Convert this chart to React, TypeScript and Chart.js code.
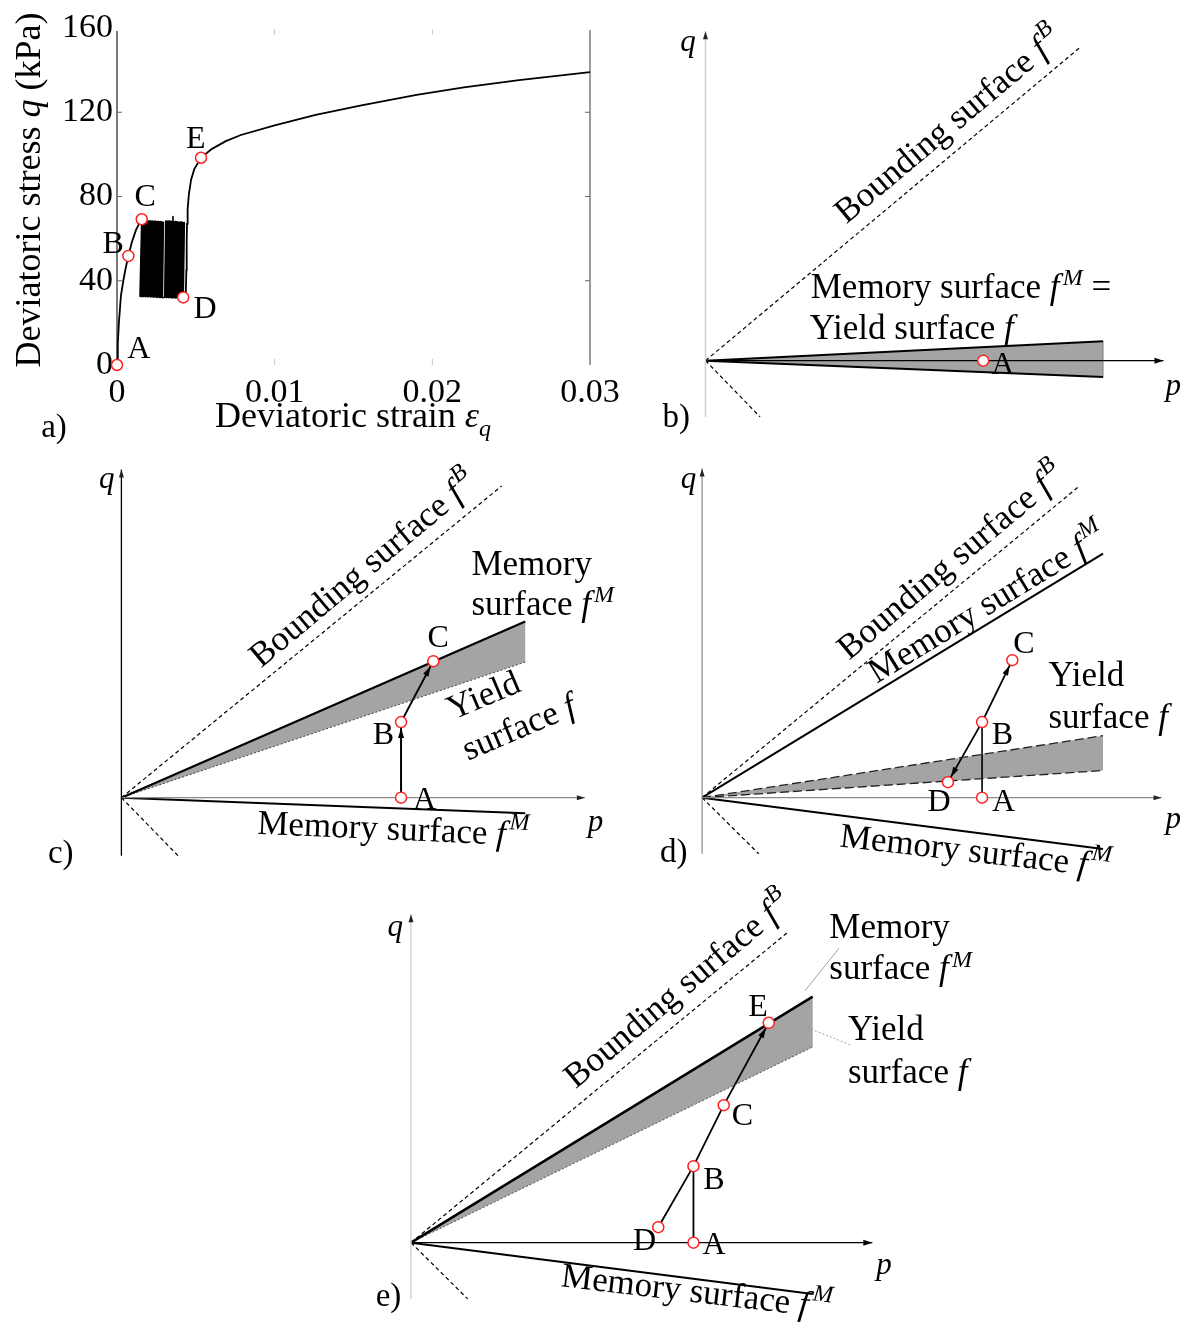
import React, { useEffect, useRef } from 'react';
import { Chart, registerables } from 'chart.js';

Chart.register(...registerables);

type Pt = [number, number];
type Part = { t: string; s?: 'i' | 'sup' | 'sub' };
type Label = {
  x: number; y: number; parts: Part[]; angle?: number;
  align?: 'left' | 'center'; base?: CanvasTextBaseline; size?: number; px?: boolean;
};

const FONT = '"Liberation Serif", "Times New Roman", Times, serif';
const GRAY = '#a4a4a4';
const DASH = [4, 3];
const TEXT_SIZE = 35;
const LETTER_SIZE = 32;

// ================= Panel a : data =================
const aXTicks = [0, 0.01, 0.02, 0.03];
const aXTickLabels = ['0', '0.01', '0.02', '0.03'];
const aYTicks = [0, 40, 80, 120, 160];
const aYTickLabels = ['0', '40', '80', '120', '160'];

// strain in units of 1e-3, stress in kPa
const loadStrainMilli = [0, 0.05, 0.12, 0.25, 0.4, 0.55, 0.72, 0.95, 1.2, 1.4, 1.57];
const loadStress = [0, 10, 20, 33, 40, 46, 51.8, 58.5, 64, 67, 69.2];

const cyclicStrainMilli = [
  1.57, 1.46, 1.64, 1.53, 1.72, 1.62, 1.81, 1.7, 1.89, 1.79, 1.98, 1.88, 2.07, 1.97, 2.15, 2.06, 2.24,
  2.15, 2.33, 2.24, 2.42, 2.33, 2.51, 2.43, 2.6, 2.52, 2.69, 2.62, 2.78, 2.72, 2.86, 2.8, 2.94, 2.88,
  3.03, 3.09, 3.11, 3.17, 3.19, 3.25, 3.27, 3.33, 3.35, 3.41, 3.43, 3.48, 3.5, 3.55, 3.57, 3.61, 3.64,
  3.69, 3.72, 3.77, 3.8, 3.85, 3.88, 3.93, 3.96, 4.01, 4.04, 4.09, 4.12, 4.17, 4.2, 4.27, 4.2,
];
const cyclicStress = [
  69.2, 32.6, 68.6, 32.5, 68.7, 32.4, 68.5, 32.6, 68.6, 32.4, 68.4, 32.5, 68.5, 32.3, 68.3, 32.5, 68.4,
  32.3, 68.2, 32.4, 68.3, 32.2, 68.1, 32.3, 68.2, 32.1, 68.0, 32.2, 68.1, 32.0, 67.9, 32.1, 67.8, 32.0,
  32.2, 68.3, 32.1, 68.4, 32.2, 68.2, 32.0, 68.3, 32.1, 68.1, 31.9, 68.2, 32.0, 70.5, 31.9, 68.0, 32.0,
  68.1, 31.8, 67.9, 31.9, 68.0, 31.8, 67.8, 31.7, 67.9, 31.8, 67.7, 31.7, 67.8, 31.8, 67.6, 32.1,
];

const reloadStrainMilli = [4.2, 4.36, 4.4, 4.42, 4.44, 4.48, 4.56, 4.7, 4.9, 5.33, 6.0, 6.9, 7.86, 10.0, 12.6, 15.5, 19.0, 22.0, 25.5, 30];
const reloadStress = [32.1, 33, 45, 58, 67, 74, 81, 88, 93, 98.4, 102.5, 106.3, 109.2, 113.8, 118.7, 123.3, 128.2, 131.8, 135.3, 139.1];

const stateNames = ['A', 'B', 'C', 'D', 'E'];
const stateStrainMilli = [0, 0.72, 1.57, 4.2, 5.33];
const stateStress = [0, 51.8, 69.2, 32.1, 98.4];

// ================= Panels b-e : schematic geometry (p, q) =================
const bQAxis: Pt[] = [[0, -58], [0, 340]];
const bPAxis: Pt[] = [[0, 0], [470, 0]];
const bBounding: Pt[] = [[0, 0], [384, 323]];
const bBoundingLow: Pt[] = [[0, 0], [56, -58]];
const bSurfUpper: Pt[] = [[0, 0], [408, 20]];
const bSurfLower: Pt[] = [[0, 0], [408, -17]];
const bStates: Pt[] = [[285, 0]];

const cQAxis: Pt[] = [[0, -60], [0, 339]];
const cPAxis: Pt[] = [[0, 0], [474, 0]];
const cBounding: Pt[] = [[0, 0], [389, 322]];
const cBoundingLow: Pt[] = [[0, 0], [58, -60]];
const cMemoryUpper: Pt[] = [[0, 0], [413, 182]];
const cYield: Pt[] = [[0, 0], [413, 140]];
const cMemoryLower: Pt[] = [[0, 0], [413, -16]];
const cPathAB: Pt[] = [[286, 0], [286, 78]];
const cPathBC: Pt[] = [[286, 78], [319, 141]];
const cStates: Pt[] = [[286, 0], [286, 78], [319, 141]];

const dQAxis: Pt[] = [[0, -58], [0, 340]];
const dPAxis: Pt[] = [[0, 0], [471, 0]];
const dBounding: Pt[] = [[0, 0], [387, 322]];
const dBoundingLow: Pt[] = [[0, 0], [58, -58]];
const dMemoryUpper: Pt[] = [[0, 0], [411, 252]];
const dYieldUpper: Pt[] = [[0, 0], [411, 64]];
const dYieldLower: Pt[] = [[0, 0], [411, 28]];
const dMemoryLower: Pt[] = [[0, 0], [411, -53]];
const dPathAB: Pt[] = [[287, 0], [287, 78]];
const dPathBC: Pt[] = [[287, 78], [318, 142]];
const dPathBD: Pt[] = [[287, 78], [252, 16]];
const dStates: Pt[] = [[287, 0], [287, 78], [318, 142], [252, 16]];

const eQAxis: Pt[] = [[0, -58], [0, 339]];
const ePAxis: Pt[] = [[0, 0], [472, 0]];
const eBounding: Pt[] = [[0, 0], [385, 320]];
const eBoundingLow: Pt[] = [[0, 0], [58, -58]];
const eMemoryUpper: Pt[] = [[0, 0], [411, 254]];
const eYield: Pt[] = [[0, 0], [411, 202]];
const eMemoryLower: Pt[] = [[0, 0], [411, -53]];
const ePathAB: Pt[] = [[289, 0], [289, 79]];
const ePathDB: Pt[] = [[253, 16], [289, 79]];
const ePathBCE: Pt[] = [[289, 79], [320, 142], [366, 227]];
const eMemoryLeader: Pt[] = [[403, 260], [438, 304]];
const eYieldLeader: Pt[] = [[398, 225], [450, 204]];
const eStates: Pt[] = [[289, 0], [289, 79], [320, 142], [253, 16], [366, 227]];

// ================= helpers =================
const T = (t: string): Part => ({ t });
const I = (t: string): Part => ({ t, s: 'i' });
const SUP = (t: string): Part => ({ t, s: 'sup' });
const SUB = (t: string): Part => ({ t, s: 'sub' });
const txtBounding = [T('Bounding surface '), I('f'), SUP('B')];
const txtMemory = [T('Memory surface '), I('f'), SUP('M')];

const toXY = (pts: Pt[]) => pts.map(([x, y]) => ({ x, y }));
const zipXY = (xs: number[], ys: number[], k = 1) => xs.map((x, i) => ({ x: x * k, y: ys[i] }));
const wedge = (up: Pt[], low: Pt[]): Pt[] => [up[0], up[1], low[1], low[0]];

function partFont(p: Part, size: number) {
  const small = p.s === 'sup' || p.s === 'sub';
  return `${p.s ? 'italic ' : ''}${small ? Math.round(size * 0.68) : size}px ${FONT}`;
}

function makeLabelPlugin(items: Label[]) {
  return {
    id: 'textLabels',
    afterDatasetsDraw(chart: any) {
      const ctx = chart.ctx;
      const xs = chart.scales.x;
      const ys = chart.scales.y;
      for (const L of items) {
        const X = L.px ? L.x : xs.getPixelForValue(L.x);
        const Y = L.px ? L.y : ys.getPixelForValue(L.y);
        const size = L.size ?? TEXT_SIZE;
        ctx.save();
        ctx.translate(X, Y);
        ctx.rotate(((L.angle ?? 0) * Math.PI) / 180);
        ctx.fillStyle = '#000';
        ctx.textBaseline = L.base ?? 'middle';
        ctx.textAlign = 'left';
        const dxs = L.parts.map((p) => (p.s === 'sup' ? size * 0.09 : 0));
        const widths = L.parts.map((p) => {
          ctx.font = partFont(p, size);
          return ctx.measureText(p.t).width;
        });
        const total = widths.reduce((a, b) => a + b, 0) + dxs.reduce((a, b) => a + b, 0);
        let cx = L.align === 'left' ? 0 : -total / 2;
        L.parts.forEach((p, i) => {
          ctx.font = partFont(p, size);
          const dy = p.s === 'sup' ? -size * 0.36 : p.s === 'sub' ? size * 0.24 : 0;
          ctx.fillText(p.t, cx + dxs[i], dy);
          cx += widths[i] + dxs[i];
        });
        ctx.restore();
      }
    },
  };
}

const arrowPlugin = {
  id: 'arrowHeads',
  afterDatasetDraw(chart: any, args: any) {
    const ds: any = chart.data.datasets[args.index];
    const a = ds.arrowHead;
    if (!a) return;
    const pts = args.meta.data;
    if (!pts || pts.length < 2) return;
    const p1 = pts[pts.length - 2];
    const p2 = pts[pts.length - 1];
    const dx = p2.x - p1.x;
    const dy = p2.y - p1.y;
    const len = Math.hypot(dx, dy) || 1;
    const ux = dx / len;
    const uy = dy / len;
    const inset = a.inset ?? 0;
    const tx = p2.x - ux * inset;
    const ty = p2.y - uy * inset;
    const bx = tx - ux * a.len;
    const by = ty - uy * a.len;
    const ctx = chart.ctx;
    ctx.save();
    ctx.fillStyle = a.color ?? '#000';
    ctx.beginPath();
    ctx.moveTo(tx, ty);
    ctx.lineTo(bx - (uy * a.w) / 2, by + (ux * a.w) / 2);
    ctx.lineTo(bx + (uy * a.w) / 2, by - (ux * a.w) / 2);
    ctx.closePath();
    ctx.fill();
    ctx.restore();
  },
};

interface LineStyle {
  color?: string; width?: number; dash?: number[];
  arrow?: { len: number; w: number; inset?: number; color?: string }; order?: number;
}
function lineDs(pts: Pt[], st: LineStyle = {}) {
  return {
    data: toXY(pts),
    borderColor: st.color ?? '#000',
    borderWidth: st.width ?? 1.5,
    borderDash: st.dash ?? [],
    borderCapStyle: 'butt',
    pointRadius: 0,
    pointHoverRadius: 0,
    fill: false,
    clip: false,
    order: st.order ?? 5,
    arrowHead: st.arrow,
  };
}
function fillDs(pts: Pt[], color: string) {
  return {
    data: toXY(pts),
    borderColor: 'rgba(0,0,0,0)',
    borderWidth: 1,
    backgroundColor: color,
    fill: 'shape',
    pointRadius: 0,
    clip: false,
    order: 20,
  };
}
function markerDs(data: { x: number; y: number }[]) {
  return {
    data,
    showLine: false,
    pointStyle: 'circle',
    pointRadius: 5.5,
    pointHoverRadius: 5.5,
    pointBorderWidth: 1.5,
    pointBorderColor: '#ff2020',
    pointBackgroundColor: '#ffffff',
    borderColor: '#ff2020',
    backgroundColor: '#ffffff',
    clip: false,
    order: 0,
  };
}

const ARROW_AX = { len: 8, w: 5, color: '#222' };
const ARROW_PATH = { len: 10, w: 6, inset: 6 };

// ================= Panel a config =================
const aStateLabelPos = [
  { x: 0.00139, y: 7.5 },
  { x: -0.00025, y: 57.4 },
  { x: 0.00178, y: 79.3 },
  { x: 0.00558, y: 26.1 },
  { x: 0.00499, y: 106.8 },
];

const frameAPlugin = {
  id: 'frameA',
  beforeDatasetsDraw(chart: any) {
    const { ctx, chartArea: ca, scales } = chart;
    ctx.save();
    ctx.lineWidth = 1.3;
    ctx.strokeStyle = '#333';
    ctx.beginPath();
    ctx.moveTo(ca.left, ca.top + 3);
    ctx.lineTo(ca.left, ca.bottom);
    ctx.stroke();
    ctx.strokeStyle = '#666';
    ctx.beginPath();
    ctx.moveTo(ca.right, ca.top + 2);
    ctx.lineTo(ca.right, ca.bottom);
    ctx.stroke();
    ctx.lineWidth = 1;
    for (const v of aYTicks.slice(1, -1)) {
      const y = scales.y.getPixelForValue(v);
      ctx.beginPath();
      ctx.moveTo(ca.left, y);
      ctx.lineTo(ca.left + 5, y);
      ctx.moveTo(ca.right, y);
      ctx.lineTo(ca.right - 5, y);
      ctx.stroke();
    }
    ctx.strokeStyle = '#c4c4c4';
    for (const v of aXTicks.slice(1, -1)) {
      const x = scales.x.getPixelForValue(v);
      ctx.beginPath();
      ctx.moveTo(x, ca.top + 1);
      ctx.lineTo(x, ca.top + 7);
      ctx.moveTo(x, ca.bottom);
      ctx.lineTo(x, ca.bottom - 6);
      ctx.stroke();
    }
    ctx.restore();
  },
};

function panelAConfig() {
  const labels: Label[] = [
    ...stateNames.map((n, i) => ({ ...aStateLabelPos[i], parts: [T(n)], size: LETTER_SIZE })),
    { px: true, x: 31, y: 190, angle: -90, size: 36, parts: [T('Deviatoric stress '), I('q'), T(' (kPa)')] },
    { px: true, x: 353, y: 427, base: 'alphabetic', size: 36, parts: [T('Deviatoric strain '), I('ε'), SUB('q')] },
    { px: true, x: 54, y: 428, size: 33, parts: [T('a)')] },
  ];
  const tickFont = { family: FONT, size: 34 };
  return {
    type: 'line',
    data: {
      datasets: [
        { data: zipXY(loadStrainMilli, loadStress, 1e-3), borderColor: '#000', borderWidth: 1.8, pointRadius: 0, clip: false, order: 5, fill: false },
        { data: zipXY(cyclicStrainMilli, cyclicStress, 1e-3), borderColor: '#000', borderWidth: 1.6, borderJoinStyle: 'round', pointRadius: 0, clip: false, order: 5, fill: false },
        { data: zipXY(reloadStrainMilli, reloadStress, 1e-3), borderColor: '#000', borderWidth: 1.8, pointRadius: 0, clip: false, order: 5, fill: false },
        markerDs(zipXY(stateStrainMilli, stateStress, 1e-3)),
      ],
    },
    options: {
      responsive: false,
      animation: false,
      events: [],
      layout: { padding: { left: 0, top: 28, right: 50, bottom: 0 } },
      plugins: { legend: { display: false }, tooltip: { enabled: false } },
      scales: {
        x: {
          type: 'linear', min: 0, max: 0.03,
          afterBuildTicks: (sc: any) => { sc.ticks = aXTicks.map((v) => ({ value: v })); },
          afterFit: (sc: any) => { sc.height = 85; },
          grid: { display: false, drawTicks: false },
          border: { display: false },
          ticks: { autoSkip: false, maxRotation: 0, minRotation: 0, padding: 8, color: '#000', font: tickFont, callback: (_v: any, i: number) => aXTickLabels[i] },
        },
        y: {
          type: 'linear', min: 0, max: 160,
          afterBuildTicks: (sc: any) => { sc.ticks = aYTicks.map((v) => ({ value: v })); },
          afterFit: (sc: any) => { sc.width = 117; },
          grid: { display: false, drawTicks: false },
          border: { display: false },
          ticks: { autoSkip: false, padding: 4, color: '#000', font: tickFont, callback: (_v: any, i: number) => aYTickLabels[i] },
        },
      },
    },
    plugins: [frameAPlugin, arrowPlugin, makeLabelPlugin(labels)],
  };
}

// ================= Panels b-e config =================
interface Spec { left: number; top: number; width: number; height: number; ox: number; oy: number; datasets: any[]; labels: Label[] }

function schematicConfig(s: Spec) {
  return {
    type: 'line',
    data: { datasets: s.datasets },
    options: {
      responsive: false,
      animation: false,
      events: [],
      layout: { padding: 0 },
      plugins: { legend: { display: false }, tooltip: { enabled: false } },
      scales: {
        x: { type: 'linear', display: false, min: -s.ox, max: s.width - s.ox },
        y: { type: 'linear', display: false, min: -(s.height - s.oy), max: s.oy },
      },
    },
    plugins: [arrowPlugin, makeLabelPlugin(s.labels)],
  };
}

const letter = (x: number, y: number, t: string): Label => ({ x, y, parts: [T(t)], size: LETTER_SIZE });

const panelB: Spec = {
  left: 640, top: 0, width: 550, height: 450, ox: 60, oy: 365,
  datasets: [
    fillDs(wedge(bSurfUpper, bSurfLower), GRAY),
    lineDs(bQAxis, { color: '#cfcfcf', width: 1.5, arrow: ARROW_AX }),
    lineDs(bPAxis, { width: 1.2, arrow: { len: 9, w: 6 } }),
    lineDs(bBounding, { width: 1.2, dash: DASH }),
    lineDs(bBoundingLow, { width: 1.2, dash: DASH }),
    lineDs(bSurfUpper, { width: 2 }),
    lineDs(bSurfLower, { width: 2 }),
    lineDs([bSurfLower[1], bSurfUpper[1]], { width: 0.8, color: '#777' }),
    markerDs(toXY(bStates)),
  ],
  labels: [
    { x: -18, y: 328, parts: [I('q')], size: 31 },
    { x: 480, y: -27, parts: [I('p')], size: 31 },
    { x: -30, y: -60, parts: [T('b)')], size: 33 },
    letter(305, -5, 'A'),
    { x: 250, y: 242, angle: -40, parts: txtBounding },
    { x: 108, y: 65, align: 'left', base: 'alphabetic', parts: [...txtMemory, T(' =')] },
    { x: 107, y: 22, align: 'left', base: 'alphabetic', parts: [T('Yield surface '), I('f')] },
  ],
};

const panelC: Spec = {
  left: 0, top: 445, width: 630, height: 440, ox: 117, oy: 357,
  datasets: [
    fillDs(wedge(cMemoryUpper, cYield), GRAY),
    lineDs(cQAxis, { width: 1.3, arrow: ARROW_AX }),
    lineDs(cPAxis, { width: 1.2, color: '#8a8a8a', arrow: ARROW_AX }),
    lineDs(cBounding, { width: 1.2, dash: DASH }),
    lineDs(cBoundingLow, { width: 1.2, dash: DASH }),
    lineDs(cMemoryUpper, { width: 2.2 }),
    lineDs(cYield, { width: 1, dash: [2, 2], color: '#444' }),
    lineDs(cMemoryLower, { width: 2 }),
    lineDs(cPathAB, { width: 2, arrow: ARROW_PATH }),
    lineDs(cPathBC, { width: 2, arrow: ARROW_PATH }),
    markerDs(toXY(cStates)),
  ],
  labels: [
    { x: -15, y: 328, parts: [I('q')], size: 31 },
    { x: 485, y: -26, parts: [I('p')], size: 31 },
    { x: -62, y: -59, parts: [T('c)')], size: 33 },
    letter(310, -3, 'A'),
    letter(268, 64, 'B'),
    letter(324, 164, 'C'),
    { x: 248, y: 235, angle: -40, parts: txtBounding },
    { x: 358, y: 230, align: 'left', base: 'alphabetic', parts: [T('Memory')] },
    { x: 358, y: 189, align: 'left', base: 'alphabetic', parts: [T('surface '), I('f'), SUP('M')] },
    { x: 371, y: 104, angle: -23, parts: [T('Yield')] },
    { x: 407, y: 71, angle: -23, parts: [T('surface '), I('f')] },
    { x: 278, y: -34, angle: 2.5, parts: txtMemory },
  ],
};

const panelD: Spec = {
  left: 620, top: 445, width: 570, height: 440, ox: 77, oy: 357,
  datasets: [
    fillDs(wedge(dYieldUpper, dYieldLower), GRAY),
    lineDs(dQAxis, { width: 1.2, color: '#8a8a8a', arrow: ARROW_AX }),
    lineDs(dPAxis, { width: 1.2, color: '#8a8a8a', arrow: ARROW_AX }),
    lineDs(dBounding, { width: 1.2, dash: DASH }),
    lineDs(dBoundingLow, { width: 1.2, dash: DASH }),
    lineDs(dMemoryUpper, { width: 2 }),
    lineDs(dYieldUpper, { width: 1.3, dash: [9, 4], color: '#222' }),
    lineDs(dYieldLower, { width: 1.3, dash: [9, 4], color: '#222' }),
    lineDs(dMemoryLower, { width: 2 }),
    lineDs(dPathAB, { width: 1.6 }),
    lineDs(dPathBC, { width: 1.8, arrow: ARROW_PATH }),
    lineDs(dPathBD, { width: 1.8, arrow: ARROW_PATH }),
    markerDs(toXY(dStates)),
  ],
  labels: [
    { x: -14, y: 328, parts: [I('q')], size: 31 },
    { x: 483, y: -23, parts: [I('p')], size: 31 },
    { x: -29, y: -58, parts: [T('d)')], size: 33 },
    letter(309, -5, 'A'),
    letter(308, 64, 'B'),
    letter(330, 158, 'C'),
    letter(243, -5, 'D'),
    { x: 256, y: 243, angle: -40, parts: txtBounding },
    { x: 293, y: 199, angle: -31.5, parts: txtMemory },
    { x: 355, y: 115, align: 'left', base: 'alphabetic', parts: [T('Yield')] },
    { x: 355, y: 72, align: 'left', base: 'alphabetic', parts: [T('surface '), I('f')] },
    { x: 280, y: -57, angle: 6.5, parts: txtMemory },
  ],
};

const panelE: Spec = {
  left: 360, top: 885, width: 620, height: 448, ox: 45, oy: 362,
  datasets: [
    fillDs(wedge(eMemoryUpper, eYield), GRAY),
    lineDs(eQAxis, { width: 1.5, color: '#d2d2d2', arrow: ARROW_AX }),
    lineDs(ePAxis, { width: 1.3, arrow: { len: 9, w: 6 } }),
    lineDs(eBounding, { width: 1.2, dash: DASH }),
    lineDs(eBoundingLow, { width: 1.2, dash: DASH }),
    lineDs(eMemoryUpper, { width: 2.5 }),
    lineDs(eYield, { width: 1, dash: [2, 2], color: '#555' }),
    lineDs(eMemoryLower, { width: 2 }),
    lineDs(ePathAB, { width: 1.8 }),
    lineDs(ePathDB, { width: 1.8 }),
    lineDs(ePathBCE, { width: 1.8, arrow: ARROW_PATH }),
    lineDs(eMemoryLeader, { width: 0.9, color: '#9a9a9a' }),
    lineDs(eYieldLeader, { width: 0.9, color: '#9a9a9a', dash: [2, 2] }),
    markerDs(toXY(eStates)),
  ],
  labels: [
    { x: -16, y: 325, parts: [I('q')], size: 31 },
    { x: 484, y: -24, parts: [I('p')], size: 31 },
    { x: -23, y: -56, parts: [T('e)')], size: 33 },
    letter(310, -3, 'A'),
    letter(310, 64, 'B'),
    letter(339, 130, 'C'),
    letter(239, 1, 'D'),
    letter(355, 243, 'E'),
    { x: 274, y: 260, angle: -40, parts: txtBounding },
    { x: 428, y: 315, align: 'left', base: 'alphabetic', parts: [T('Memory')] },
    { x: 428, y: 272, align: 'left', base: 'alphabetic', parts: [T('surface '), I('f'), SUP('M')] },
    { x: 447, y: 209, align: 'left', base: 'alphabetic', parts: [T('Yield')] },
    { x: 447, y: 165, align: 'left', base: 'alphabetic', parts: [T('surface '), I('f')] },
    { x: 292, y: -52, angle: 6.7, parts: txtMemory },
  ],
};

// ================= React =================
function ChartCanvas(props: { left: number; top: number; width: number; height: number; build: () => any }) {
  const ref = useRef<HTMLCanvasElement>(null);
  useEffect(() => {
    if (!ref.current) return;
    const chart = new Chart(ref.current, props.build());
    return () => chart.destroy();
  }, []);
  const { left, top, width, height } = props;
  return (
    <canvas
      ref={ref}
      width={width}
      height={height}
      style={{ position: 'absolute', left, top, width, height }}
    />
  );
}

export default function App() {
  const panels = [panelB, panelC, panelD, panelE];
  return (
    <div style={{ position: 'absolute', left: 0, top: 0, width: 1190, height: 1333, background: '#fff', overflow: 'hidden' }}>
      <ChartCanvas left={0} top={0} width={640} height={450} build={panelAConfig} />
      {panels.map((p, i) => (
        <ChartCanvas key={i} left={p.left} top={p.top} width={p.width} height={p.height} build={() => schematicConfig(p)} />
      ))}
    </div>
  );
}
